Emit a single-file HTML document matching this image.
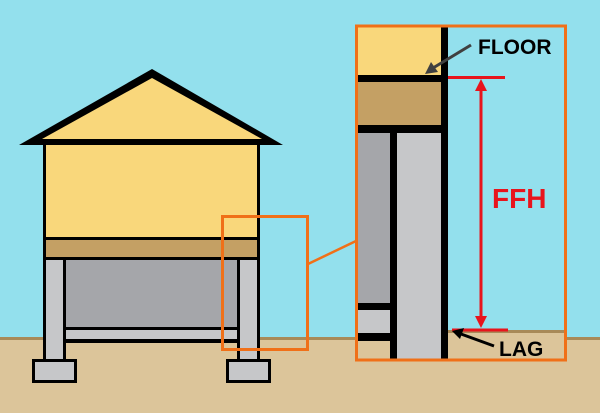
<!DOCTYPE html>
<html><head><style>
html,body{margin:0;padding:0;width:600px;height:413px;overflow:hidden;background:#93E0ED}
svg{display:block}
text{font-family:"Liberation Sans",Arial,sans-serif;font-weight:bold}
</style></head><body>
<svg width="600" height="413" viewBox="0 0 600 413" xmlns="http://www.w3.org/2000/svg">
<rect x="0" y="0" width="600" height="413" fill="#93E0ED"/>
<rect x="0" y="339" width="600" height="74" fill="#DCC59A"/>
<rect x="0" y="337" width="600" height="3" fill="#A88A58"/>
<polygon points="152,69 19,145 283,145" fill="#000"/>
<polygon points="152,78 42,139 262,139" fill="#F9D77B"/>
<rect x="43" y="143" width="217" height="118" fill="#000"/>
<rect x="46" y="145" width="211" height="92" fill="#F9D77B"/>
<rect x="46" y="240" width="211" height="17" fill="#C4A064"/>
<rect x="63" y="258" width="177" height="85" fill="#000"/>
<rect x="66" y="260" width="171" height="67" fill="#A5A6AA"/>
<rect x="66" y="330" width="171" height="9" fill="#C6C7C9"/>
<rect x="43" y="258" width="23" height="103" fill="#000"/>
<rect x="46" y="260" width="17" height="100" fill="#C6C7C9"/>
<rect x="237" y="258" width="23" height="103" fill="#000"/>
<rect x="240" y="260" width="17" height="100" fill="#C6C7C9"/>
<rect x="33.5" y="360.5" width="42" height="21" fill="#C6C7C9" stroke="#000" stroke-width="3"/>
<rect x="227.5" y="360.5" width="42" height="21" fill="#C6C7C9" stroke="#000" stroke-width="3"/>
<rect x="222.5" y="216.5" width="85" height="133" fill="none" stroke="#F07018" stroke-width="3"/>
<line x1="308" y1="264" x2="356" y2="241" stroke="#F07018" stroke-width="2.5"/>
<rect x="357" y="27" width="208" height="333" fill="#93E0ED"/>
<rect x="448" y="333" width="117" height="27" fill="#DCC59A"/>
<rect x="448" y="330" width="117" height="3" fill="#A88A58"/>
<rect x="357" y="27" width="91" height="333" fill="#000"/>
<rect x="357" y="27" width="84" height="48" fill="#F9D77B"/>
<rect x="357" y="82" width="84" height="43" fill="#C4A064"/>
<rect x="357" y="133" width="33" height="170" fill="#A5A6AA"/>
<rect x="397" y="133" width="44" height="227" fill="#C6C7C9"/>
<rect x="357" y="310" width="33" height="23" fill="#C6C7C9"/>
<rect x="357" y="341" width="33" height="19" fill="#DCC59A"/>
<rect x="356.5" y="26" width="209" height="334" fill="none" stroke="#F07018" stroke-width="3"/>
<line x1="448" y1="77.5" x2="505" y2="77.5" stroke="#E8141C" stroke-width="3"/>
<line x1="452" y1="330" x2="508" y2="330" stroke="#E8141C" stroke-width="3"/>
<line x1="481" y1="88" x2="481" y2="318" stroke="#E8141C" stroke-width="3"/>
<polygon points="481,79 475,91 487,91" fill="#E8141C"/>
<polygon points="481,328 475,316 487,316" fill="#E8141C"/>
<text x="492" y="208" font-size="28" fill="#E8141C">FFH</text>
<text x="478" y="54" font-size="21" fill="#000">FLOOR</text>
<line x1="471" y1="45" x2="433" y2="68" stroke="#404040" stroke-width="3"/>
<polygon points="425,74 431,62 438,72" fill="#404040"/>
<text x="499" y="356" font-size="21" fill="#000">LAG</text>
<line x1="494" y1="346" x2="461" y2="334" stroke="#000" stroke-width="3"/>
<polygon points="452,331 464,328 460,339" fill="#000"/>
</svg>
</body></html>
